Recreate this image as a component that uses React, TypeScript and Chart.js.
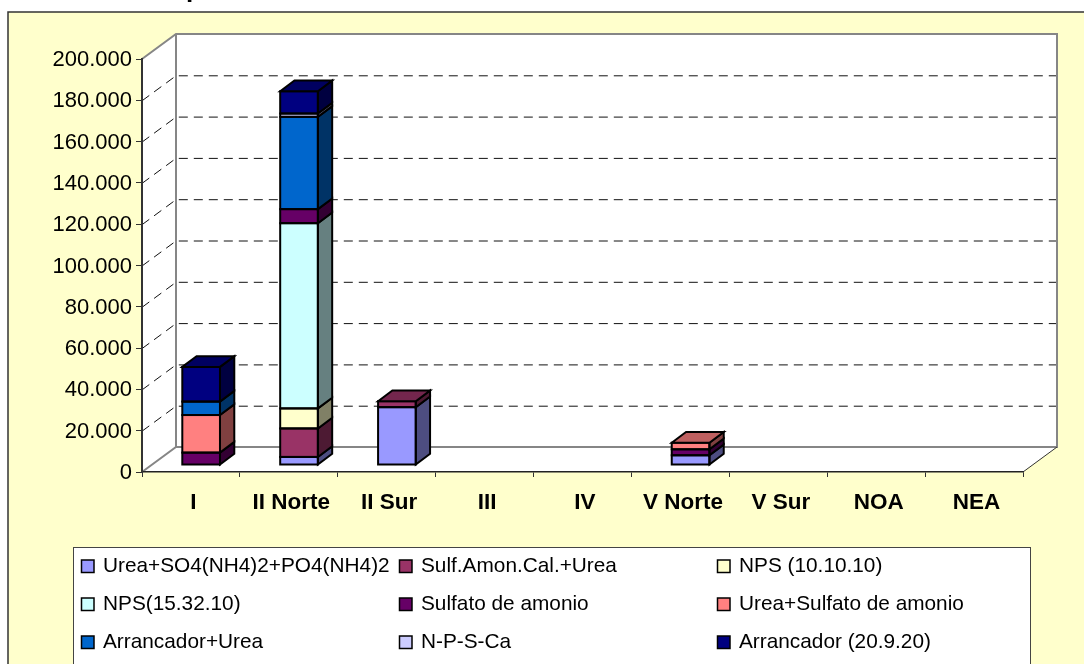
import React, { useEffect, useRef } from "react";
import { Chart, registerables } from "chart.js";

Chart.register(...registerables);

const categories = ["I", "II Norte", "II Sur", "III", "IV", "V Norte", "V Sur", "NOA", "NEA"];
const yTicks = [0, 20000, 40000, 60000, 80000, 100000, 120000, 140000, 160000, 180000, 200000];

const ureaSo4Po4 = [null, 3900, 28000, null, null, 4700, null, null, null];
const sulfAmonCal = [null, 13800, 2900, null, null, null, null, null, null];
const nps101010 = [null, 9700, null, null, null, null, null, null, null];
const nps153210 = [null, 89700, null, null, null, null, null, null, null];
const sulfatoAmonio = [6000, 6800, null, null, null, 2900, null, null, null];
const ureaSulfato = [18200, null, null, null, null, 3200, null, null, null];
const arrancadorUrea = [6500, 44700, null, null, null, null, null, null, null];
const npsCa = [null, 1600, null, null, null, null, null, null, null];
const arrancador = [16800, 10800, null, null, null, null, null, null, null];

const seriesNames = [
  "Urea+SO4(NH4)2+PO4(NH4)2", "Sulf.Amon.Cal.+Urea", "NPS (10.10.10)",
  "NPS(15.32.10)", "Sulfato de amonio", "Urea+Sulfato de amonio",
  "Arrancador+Urea", "N-P-S-Ca", "Arrancador (20.9.20)",
];
const seriesValues = [ureaSo4Po4, sulfAmonCal, nps101010, nps153210, sulfatoAmonio, ureaSulfato, arrancadorUrea, npsCa, arrancador];
const seriesColors = ["#9999FF", "#993366", "#FFFFCC", "#CCFFFF", "#660066", "#FF8080", "#0066CC", "#CCCCFF", "#000080"];
const titleFragment = "p";

const FONT = '"Liberation Sans", Arial, sans-serif';
const WALL_DX = 34, WALL_DY = 25;
const BAR_DX = 10.2, BAR_DY = 7;
const DEPTH_DX = 14.3, DEPTH_DY = 10.7;

const shade = (hex: string, f: number) => {
  const n = parseInt(hex.slice(1), 16);
  const c = [(n >> 16) & 255, (n >> 8) & 255, n & 255].map((v) => Math.round(v * f));
  return `rgb(${c[0]},${c[1]},${c[2]})`;
};

const poly = (ctx: CanvasRenderingContext2D, pts: number[][], fill: string | null, stroke: string | null, lw = 2) => {
  ctx.beginPath();
  pts.forEach((p, i) => (i ? ctx.lineTo(p[0], p[1]) : ctx.moveTo(p[0], p[1])));
  ctx.closePath();
  if (fill) { ctx.fillStyle = fill; ctx.fill(); }
  if (stroke) { ctx.strokeStyle = stroke; ctx.lineWidth = lw; ctx.lineJoin = "miter"; ctx.stroke(); }
};

const scenePlugin = {
  id: "scene",
  beforeDraw(chart: any) {
    const { ctx, chartArea: a, scales } = chart;
    const W = chart.width, H = chart.height;
    ctx.save();
    ctx.fillStyle = "#FFFFFF";
    ctx.fillRect(0, 0, W, H);
    // title fragment, cut by the top edge
    ctx.fillStyle = "#000";
    ctx.font = `bold 26px ${FONT}`;
    ctx.textAlign = "left";
    ctx.textBaseline = "alphabetic";
    ctx.fillText(titleFragment, 186, -3);
    // chart frame
    ctx.fillStyle = "#FFFFCC";
    ctx.fillRect(8, 12, W + 20, H + 20);
    ctx.strokeStyle = "#333333";
    ctx.lineWidth = 1.5;
    ctx.strokeRect(8, 12, W + 20, H + 20);
    // walls
    const L = a.left, R = a.right, T = a.top, B = a.bottom;
    poly(ctx, [[L, T], [L + WALL_DX, T - WALL_DY], [R + WALL_DX, T - WALL_DY], [R + WALL_DX, B - WALL_DY], [R, B], [L, B]], "#FFFFFF", null);
    // gridlines
    ctx.strokeStyle = "#111111";
    ctx.lineWidth = 1;
    ctx.setLineDash([9, 6]);
    yTicks.forEach((v) => {
      if (v === 0 || v === yTicks[yTicks.length - 1]) return;
      const y = scales.y.getPixelForValue(v);
      ctx.beginPath();
      ctx.moveTo(L, y + 0.5);
      ctx.lineTo(L + WALL_DX, y - WALL_DY + 0.5);
      ctx.lineTo(R + WALL_DX, y - WALL_DY + 0.5);
      ctx.stroke();
    });
    ctx.setLineDash([]);
    // wall edges
    ctx.strokeStyle = "#868686";
    ctx.lineWidth = 2;
    ctx.beginPath();
    ctx.moveTo(L, T);
    ctx.lineTo(L + WALL_DX, T - WALL_DY);
    ctx.lineTo(R + WALL_DX, T - WALL_DY);
    ctx.lineTo(R + WALL_DX, B - WALL_DY);
    ctx.lineTo(L + WALL_DX, B - WALL_DY);
    ctx.lineTo(L, B);
    ctx.moveTo(L + WALL_DX, T - WALL_DY);
    ctx.lineTo(L + WALL_DX, B - WALL_DY);
    ctx.stroke();
    ctx.strokeStyle = "#333333";
    ctx.lineWidth = 1;
    ctx.beginPath();
    ctx.moveTo(R, B);
    ctx.lineTo(R + WALL_DX, B - WALL_DY);
    ctx.stroke();
    // legend
    const lx = 73, ly = 547, lw = 957;
    ctx.fillStyle = "#FFFFFF";
    ctx.fillRect(lx, ly, lw, H);
    ctx.strokeStyle = "#444444";
    ctx.lineWidth = 1;
    ctx.strokeRect(lx + 0.5, ly + 0.5, lw, H);
    const swatchX = [81.5, 399.5, 717.5];
    const rowY = [566, 604, 642];
    chart.data.datasets.forEach((d: any, i: number) => {
      const c = i % 3, r = Math.floor(i / 3);
      ctx.fillStyle = d.backgroundColor;
      ctx.strokeStyle = "#000";
      ctx.lineWidth = 1.5;
      ctx.fillRect(swatchX[c], rowY[r] - 6, 12.5, 12.5);
      ctx.strokeRect(swatchX[c], rowY[r] - 6, 12.5, 12.5);
      ctx.fillStyle = "#000";
      ctx.font = `20.8px ${FONT}`;
      ctx.textAlign = "left";
      ctx.textBaseline = "middle";
      ctx.fillText(d.label, swatchX[c] + 21.5, rowY[r]);
    });
    ctx.restore();
  },
  beforeDatasetDraw(chart: any) {
    chart.ctx.save();
    chart.ctx.translate(BAR_DX, -BAR_DY);
  },
  afterDatasetDraw(chart: any) {
    chart.ctx.restore();
  },
  afterDatasetsDraw(chart: any) {
    const { ctx } = chart;
    const n = chart.data.labels.length;
    ctx.save();
    ctx.translate(BAR_DX, -BAR_DY);
    for (let j = 0; j < n; j++) {
      let topIdx = -1;
      chart.data.datasets.forEach((d: any, i: number) => { if (d.data[j] != null) topIdx = i; });
      chart.data.datasets.forEach((d: any, i: number) => {
        if (d.data[j] == null) return;
        const el = chart.getDatasetMeta(i).data[j];
        const l = el.x - el.width / 2, r = el.x + el.width / 2, t = el.y, b = el.base;
        poly(ctx, [[r, t], [r + DEPTH_DX, t - DEPTH_DY], [r + DEPTH_DX, b - DEPTH_DY], [r, b]], shade(d.backgroundColor, 0.5), "#000");
        ctx.strokeStyle = "#000";
        ctx.lineWidth = 2;
        ctx.lineJoin = "miter";
        ctx.strokeRect(l, t, r - l, b - t);
        if (i === topIdx) {
          poly(ctx, [[l, t], [l + DEPTH_DX, t - DEPTH_DY], [r + DEPTH_DX, t - DEPTH_DY], [r, t]], shade(d.backgroundColor, 0.75), "#000");
        }
      });
    }
    ctx.restore();
  },
};

export default function App() {
  const ref = useRef<HTMLCanvasElement>(null);
  useEffect(() => {
    document.body.style.margin = "0";
    document.body.style.overflow = "hidden";
    const chart = new Chart(ref.current!, {
      type: "bar",
      data: {
        labels: categories,
        datasets: seriesNames.map((label, i) => ({
          label,
          data: seriesValues[i],
          backgroundColor: seriesColors[i],
          borderWidth: 0,
          barPercentage: 0.385,
          categoryPercentage: 1,
          clip: false as any,
        })),
      },
      options: {
        responsive: false,
        animation: false,
        layout: { padding: { left: 0, top: 59, right: 61, bottom: 0 } },
        plugins: { legend: { display: false }, title: { display: false }, tooltip: { enabled: false } },
        scales: {
          x: {
            stacked: true,
            afterFit: (s: any) => { s.height = 192; },
            grid: { drawOnChartArea: false, drawTicks: true, tickLength: 5, color: "#333333", lineWidth: 1 },
            border: { display: true, color: "#222222", width: 1.5 },
            ticks: { color: "#000", font: { family: FONT, size: 22.5, weight: "bold" }, padding: 12, labelOffset: 2.5, maxRotation: 0, autoSkip: false },
          },
          y: {
            stacked: true,
            min: yTicks[0],
            max: yTicks[yTicks.length - 1],
            afterFit: (s: any) => { s.width = 142; },
            afterBuildTicks: (s: any) => { s.ticks = yTicks.map((value) => ({ value })); },
            grid: { drawOnChartArea: false, drawTicks: true, tickLength: 6, color: "#333333", lineWidth: 1 },
            border: { display: true, color: "#333333", width: 2 },
            ticks: {
              color: "#000",
              font: { family: FONT, size: 22 },
              padding: 4,
              labelOffset: 1,
              callback: (v: any) => (v === 0 ? "0" : Number(v).toLocaleString("de-DE", { minimumFractionDigits: 0 })),
            },
          },
        },
      } as any,
      plugins: [scenePlugin as any],
    });
    return () => chart.destroy();
  }, []);
  return <canvas ref={ref} width={1084} height={664} style={{ display: "block", width: 1084, height: 664 }} />;
}
